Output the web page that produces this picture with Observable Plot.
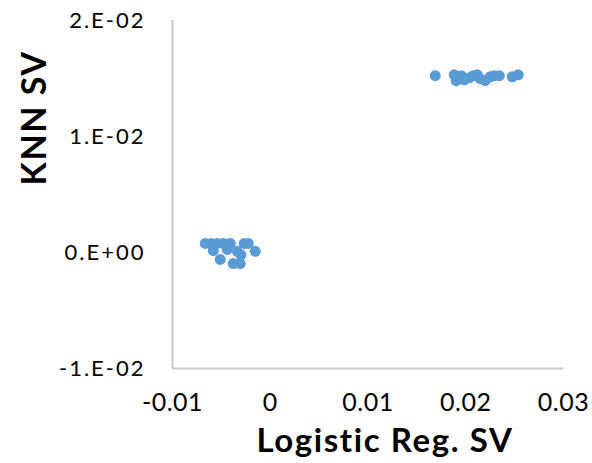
<!DOCTYPE html>
<html>
<head>
<meta charset="utf-8">
<script src="https://cdn.jsdelivr.net/npm/d3@7"></script>
<script src="https://cdn.jsdelivr.net/npm/@observablehq/plot@0.6"></script>
<style>
  html, body { margin: 0; padding: 0; background: #fff; }
  #chart svg { display: block; }
</style>
</head>
<body>
<div id="chart"></div>
<script>
const logisticSV = [
  -0.00665, -0.00604, -0.00542, -0.00481, -0.00409, -0.00266, -0.00225,
  -0.00583, -0.00440, -0.00338, -0.00512, -0.00379, -0.00307, -0.00153, -0.00300,
  0.01688, 0.01882, 0.01903, 0.01954, 0.01985, 0.02036, 0.02077, 0.02118,
  0.02148, 0.02199, 0.02251, 0.02292, 0.02343, 0.02476, 0.02537
];
const knnSV = [
  0.00078, 0.00078, 0.00078, 0.00078, 0.00078, 0.00078, 0.00078,
  0.00017, 0.00026, 0.00010, -0.00060, -0.00095, -0.00095, 0.00010, -0.00020,
  0.01524, 0.01532, 0.01481, 0.01524, 0.01489, 0.01506, 0.01524, 0.01532,
  0.01498, 0.01481, 0.01515, 0.01524, 0.01524, 0.01515, 0.01532
];
const xTicks = [-0.01, 0, 0.01, 0.02, 0.03];
const xTickLabels = ["-0.01", "0", "0.01", "0.02", "0.03"];
const yTicks = [-0.01, 0, 0.01, 0.02];
const yTickLabels = ["-1.E-02", "0.E+00", "1.E-02", "2.E-02"];
const xTitle = "Logistic Reg. SV";
const yTitle = "KNN SV";

const data = logisticSV.map((x, i) => ({x, y: knnSV[i]}));

const chart = Plot.plot({
  width: 592,
  height: 463,
  marginLeft: 172,
  marginRight: 29,
  marginTop: 20,
  marginBottom: 95,
  style: {fontFamily: "Lato, sans-serif", color: "#000", background: "#fff"},
  x: {domain: [-0.01, 0.03]},
  y: {domain: [-0.01, 0.02]},
  marks: [
    Plot.ruleX([-0.01], {stroke: "#c8c8c8", strokeWidth: 2}),
    Plot.ruleY([-0.01], {stroke: "#c8c8c8", strokeWidth: 2}),
    Plot.axisX({ticks: xTicks, tickSize: 0, tickPadding: 25,
      tickFormat: (d) => xTickLabels[xTicks.indexOf(d)], label: null}),
    Plot.axisY({ticks: yTicks, tickSize: 0, tickPadding: 27,
      tickFormat: (d) => yTickLabels[yTicks.indexOf(d)], label: null}),
    Plot.text([xTitle], {frameAnchor: "bottom", dy: 73, dx: 17, lineAnchor: "middle",
      fontSize: 33, fontWeight: "bold", fill: "#000"}),
    Plot.text([yTitle], {frameAnchor: "left", dx: -137, dy: -9, rotate: -90, lineAnchor: "middle",
      fontSize: 34, fontWeight: "bold", fill: "#000"}),
    Plot.dot(data, {x: "x", y: "y", r: 5.5, fill: "#5b9bd5", stroke: "none"})
  ]
});

const svg = d3.select(chart);
svg.selectAll("g[aria-label='x-axis tick label']")
  .attr("font-size", 25).style("letter-spacing", "0.5px");
svg.selectAll("g[aria-label='y-axis tick label']")
  .attr("font-size", 22).style("letter-spacing", "2px");
svg.selectAll("g[aria-label='text'] text").style("letter-spacing", "1.6px");

document.getElementById("chart").appendChild(chart);
</script>
</body>
</html>
